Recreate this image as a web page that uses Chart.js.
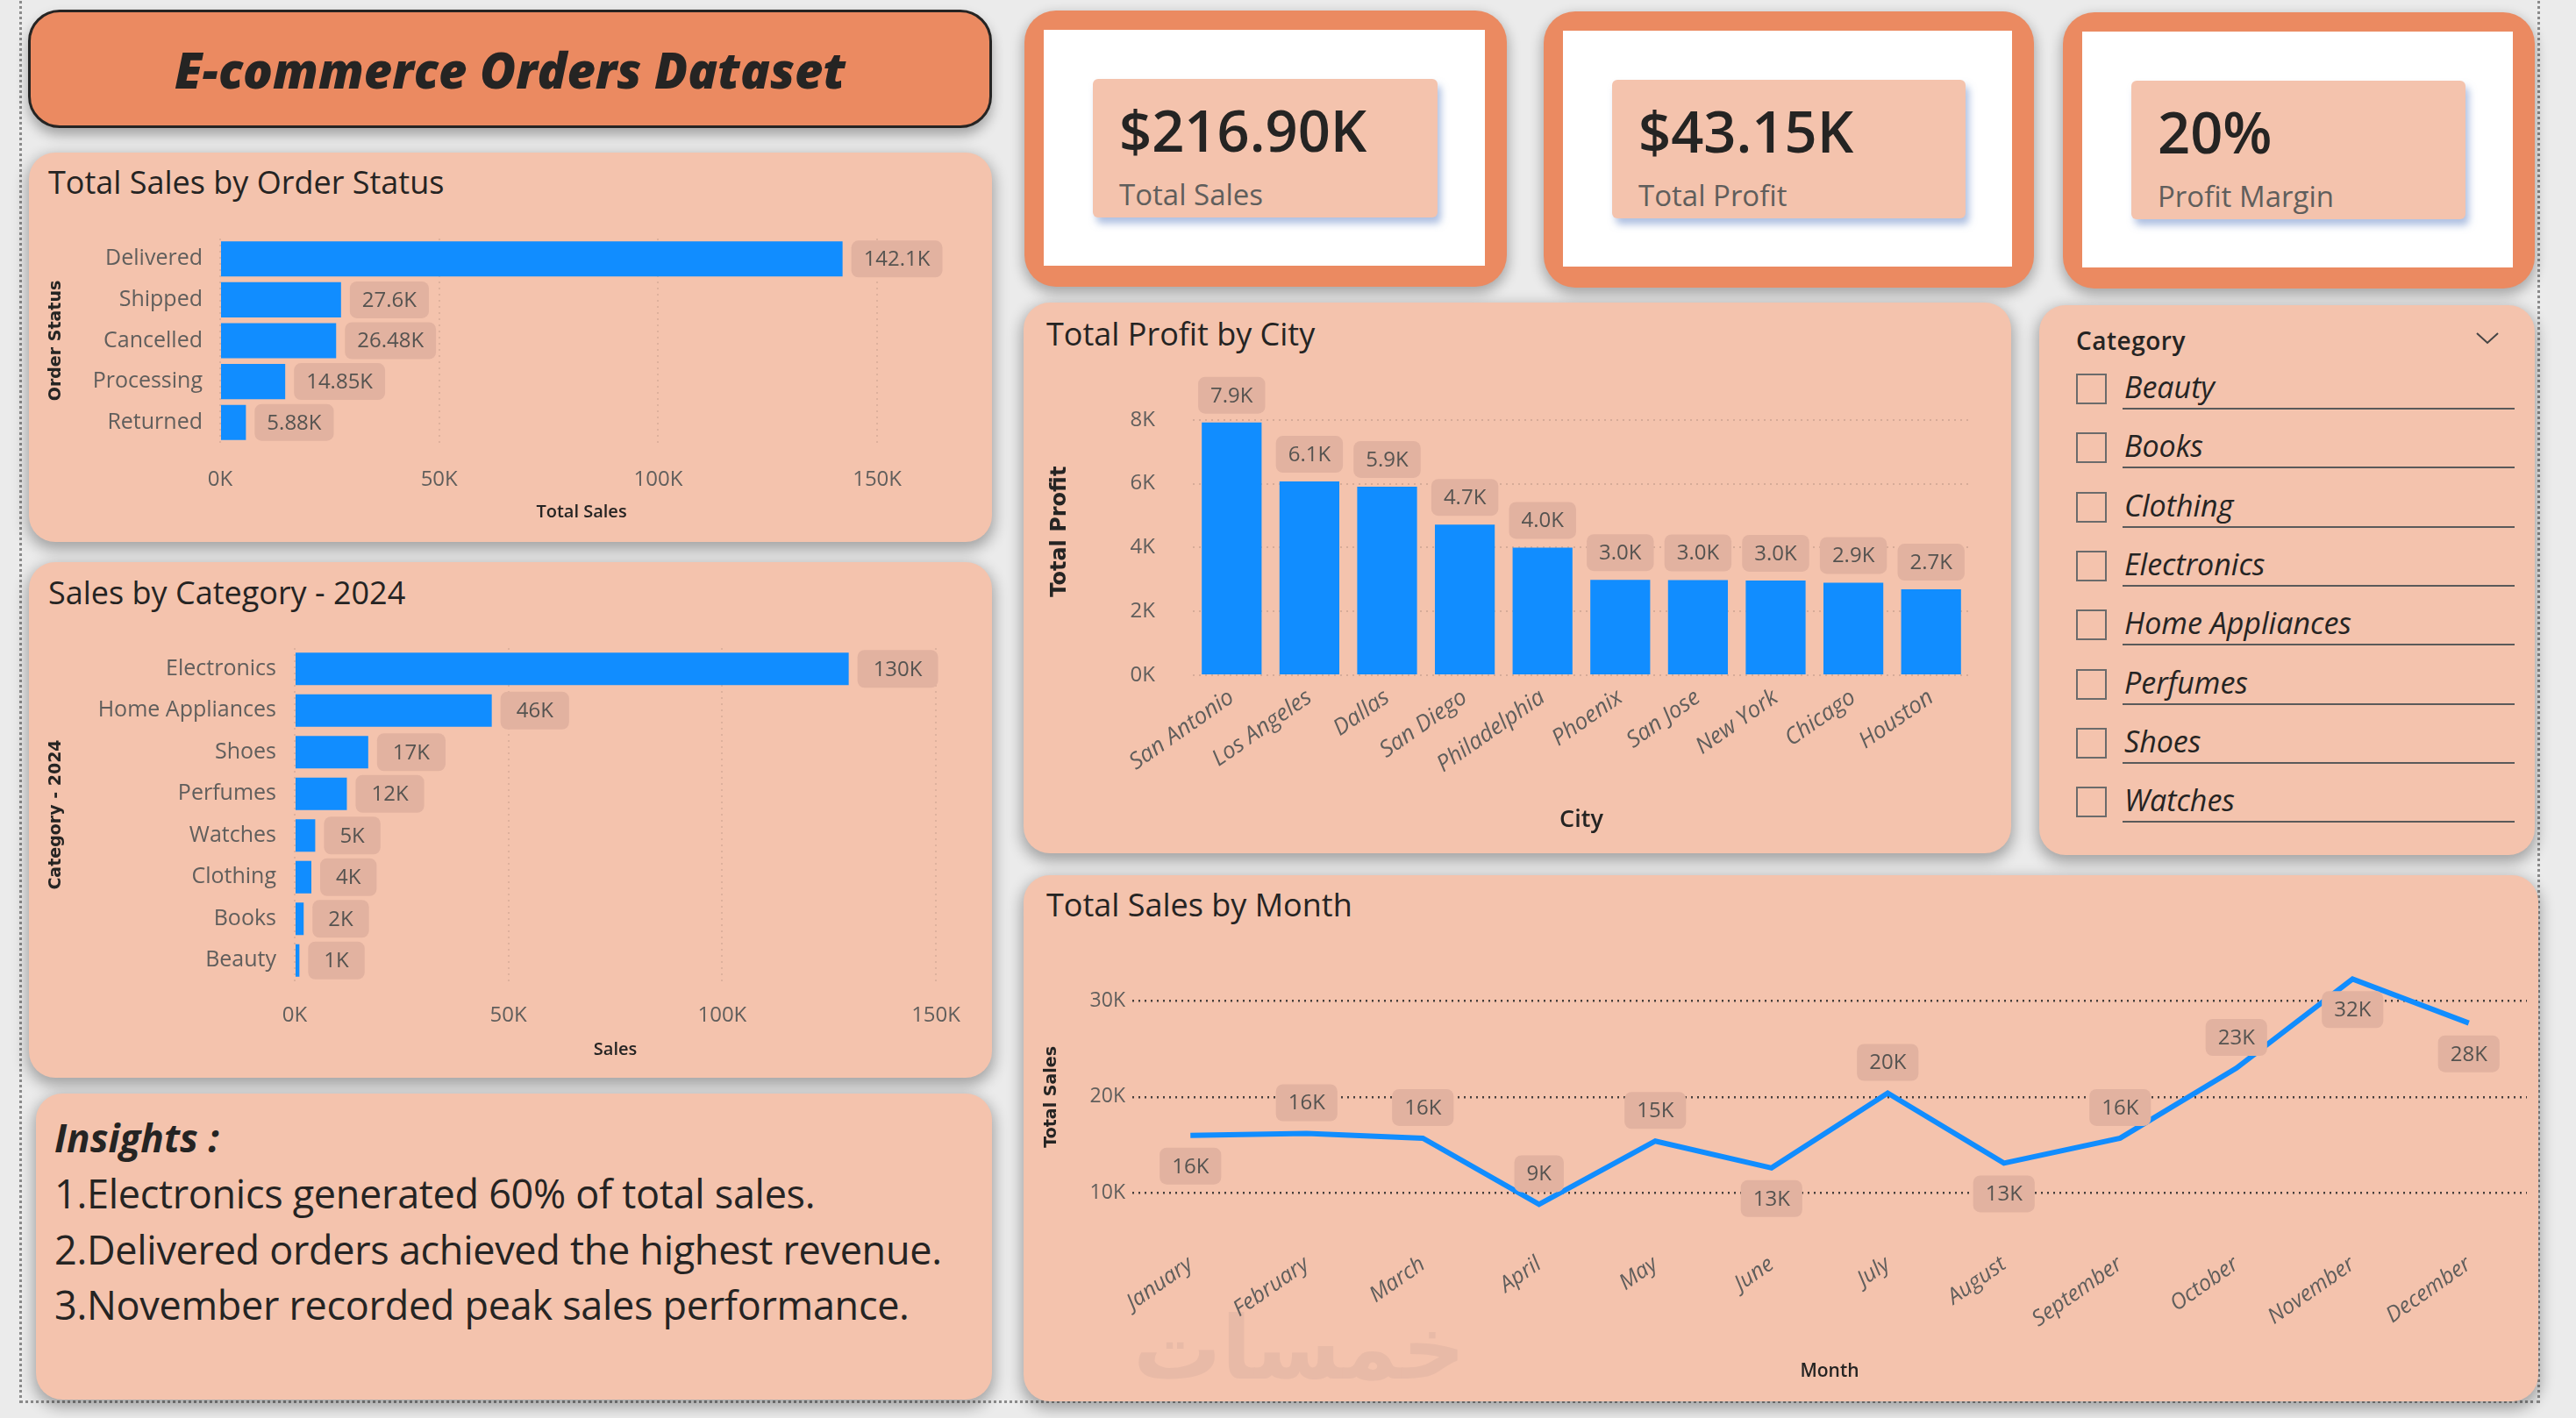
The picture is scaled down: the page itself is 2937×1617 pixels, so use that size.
<!DOCTYPE html>
<html>
<head>
<meta charset="utf-8">
<title>E-commerce Orders Dataset</title>
<script src="https://cdn.jsdelivr.net/npm/chart.js@4.4.1/dist/chart.umd.min.js"></script>
<style>
  html, body { margin: 0; padding: 0; }
  body {
    width: 2937px; height: 1617px; position: relative; overflow: hidden;
    background: #ebebeb; font-family: 'Open Sans', sans-serif; color: #252423;
  }
  .frame {
    position: absolute; left: 22px; top: -6px; width: 2874px; height: 1606px;
    border: 3px dotted #8a8a8a; border-top: none; box-sizing: border-box;
  }
  .panel {
    position: absolute; background: #F4C3AD; border-radius: 30px;
    box-shadow: 0 6px 16px 3px rgba(0,0,0,0.30);
  }
  .ptitle { position: absolute; left: 22px; font-size: 36px; line-height: 44px; font-weight: 500; color: #252423; }
  .chartbox { position: absolute; }
  .header {
    position: absolute; left: 32px; top: 11px; width: 1099px; height: 135px; box-sizing: border-box;
    background: #EB8A61; border: 3px solid #252423; border-radius: 36px;
    box-shadow: 0 8px 14px rgba(0,0,0,0.30);
    display: flex; align-items: center; justify-content: center;
    font-size: 56px; font-weight: 800; font-style: italic; color: #252423;
  }
  .kpi {
    position: absolute; background: #EB8A61; border-radius: 36px;
    box-shadow: 0 6px 14px 2px rgba(0,0,0,0.28);
  }
  .kpi .inner { position: absolute; left: 22px; top: 22px; right: 25px; bottom: 24px; background: #fff; }
  .kpi .val {
    position: absolute; left: 78px; top: 78px; height: 158px; background: #F4C3AD; border-radius: 6px;
    box-shadow: 4px 7px 9px rgba(110,140,200,0.55);
  }
  .kpi .num { position: absolute; left: 30px; top: 18px; font-size: 65px; font-weight: 600; line-height: 80px; color: #252423; }
  .kpi .name { position: absolute; left: 30px; top: 112px; font-size: 33px; line-height: 40px; color: #605E5C; }
  .slicer-title { position: absolute; left: 42px; top: 20px; font-size: 28px; font-weight: 600; letter-spacing: 0.5px; line-height: 40px; }
  .item { position: absolute; left: 42px; width: 500px; height: 40px; }
  .item .cb { position: absolute; left: 0; top: 0; width: 35px; height: 35px; box-sizing: border-box; border: 2px solid #6b6b6b; }
  .item .lbl { position: absolute; left: 55px; top: -7px; font-size: 34px; font-style: italic; line-height: 44px; color: #252423; }
  .item .ul { position: absolute; left: 53px; top: 39px; width: 447px; height: 2px; background: #5a5a5a; }
  .insights { position: absolute; left: 21px; top: 24px; }
  .insights .head { font-size: 44px; font-weight: 700; font-style: italic; line-height: 52px; margin-bottom: 6px; }
  .insights .line { font-size: 45px; line-height: 63.5px; color: #252423; letter-spacing: -0.3px; }
  .watermark {
    position: absolute; left: 1292px; top: 1478px; font-family: 'DejaVu Sans', sans-serif;
    font-size: 100px; font-weight: 700; color: #E8BAA7; line-height: 120px;
  }
</style>
</head>
<body>
<div class="frame"></div>

<div class="header">E-commerce Orders Dataset</div>

<div class="panel" style="left:33px;top:174px;width:1098px;height:444px;">
  <div class="ptitle" style="top:12px;">Total Sales by Order Status</div>
</div>
<div class="panel" style="left:33px;top:641px;width:1098px;height:588px;">
  <div class="ptitle" style="top:13px;">Sales by Category - 2024</div>
</div>
<div class="panel" style="left:41px;top:1247px;width:1090px;height:349px;">
  <div class="insights" id="insights"></div>
</div>

<div class="kpi" id="kpi0" style="left:1168px;top:12px;width:550px;height:315px;"></div>
<div class="kpi" id="kpi1" style="left:1760px;top:13px;width:559px;height:315px;"></div>
<div class="kpi" id="kpi2" style="left:2352px;top:14px;width:538px;height:315px;"></div>

<div class="panel" style="left:1167px;top:345px;width:1126px;height:628px;">
  <div class="ptitle" style="top:14px;left:26px;">Total Profit by City</div>
</div>
<div class="panel" id="slicer" style="left:2325px;top:348px;width:565px;height:627px;">
  <div class="slicer-title">Category</div>
  <svg style="position:absolute;left:497px;top:30px;" width="28" height="16" viewBox="0 0 28 16">
    <polyline points="2,2 14,13 26,2" fill="none" stroke="#444" stroke-width="2"/>
  </svg>
</div>
<div class="panel" style="left:1167px;top:998px;width:1727px;height:600px;">
  <div class="ptitle" style="top:12px;left:26px;">Total Sales by Month</div>
</div>
<div class="watermark">خمسات</div>

<div class="chartbox" style="left:40px;top:250px;width:1080px;height:358px;"><canvas id="statusChart"></canvas></div>
<div class="chartbox" style="left:40px;top:715px;width:1080px;height:505px;"><canvas id="categoryChart"></canvas></div>
<div class="chartbox" style="left:1180px;top:420px;width:1100px;height:545px;"><canvas id="cityChart"></canvas></div>
<div class="chartbox" style="left:1180px;top:1065px;width:1701px;height:525px;"><canvas id="monthChart"></canvas></div>

<script>
// --- DATA ---
const statusLabels = ['Delivered', 'Shipped', 'Cancelled', 'Processing', 'Returned'];
const statusSales = [142100, 27600, 26480, 14850, 5880];

const categoryLabels = ['Electronics', 'Home Appliances', 'Shoes', 'Perfumes', 'Watches', 'Clothing', 'Books', 'Beauty'];
const categorySales = [129600, 46100, 17200, 12200, 4800, 3900, 2100, 1100];

const cityLabels = ['San Antonio', 'Los Angeles', 'Dallas', 'San Diego', 'Philadelphia', 'Phoenix', 'San Jose', 'New York', 'Chicago', 'Houston'];
const cityProfit = [7920, 6070, 5910, 4720, 4000, 2990, 2980, 2970, 2900, 2690];

const monthLabels = ['January', 'February', 'March', 'April', 'May', 'June', 'July', 'August', 'September', 'October', 'November', 'December'];
const monthSales = [16000, 16200, 15700, 8800, 15400, 12600, 20400, 13100, 15700, 23000, 32300, 27700];

const salesTicks = [0, 50000, 100000, 150000];
const profitTicks = [0, 2000, 4000, 6000, 8000];
const monthTicks = [10000, 20000, 30000];

const kpiValues = ['$216.90K', '$43.15K', '20%'];
const kpiNames = ['Total Sales', 'Total Profit', 'Profit Margin'];

const slicerItems = ['Beauty', 'Books', 'Clothing', 'Electronics', 'Home Appliances', 'Perfumes', 'Shoes', 'Watches'];

const insightTitle = 'Insights :';
const insightLines = [
  '1.Electronics generated 60% of total sales.',
  '2.Delivered orders achieved the highest revenue.',
  '3.November recorded peak sales performance.'
];

// which side of the line each month label sits on
const monthLabelSide = ['below', 'above', 'above', 'above', 'above', 'below', 'above', 'below', 'above', 'above', 'below', 'below'];

// --- STATIC BITS ---
kpiValues.forEach((v, i) => {
  const w = [393, 403, 381][i];
  document.getElementById('kpi' + i).innerHTML =
    `<div class="inner"></div>
     <div class="val" style="width:${w}px">
       <div class="num">${v}</div>
       <div class="name">${kpiNames[i]}</div>
     </div>`;
});

const slicer = document.getElementById('slicer');
slicerItems.forEach((name, i) => {
  const d = document.createElement('div');
  d.className = 'item';
  d.style.top = (78 + i * 67.3) + 'px';
  d.innerHTML = `<div class="cb"></div><div class="lbl">${name}</div><div class="ul"></div>`;
  slicer.appendChild(d);
});

document.getElementById('insights').innerHTML =
  `<div class="head">${insightTitle}</div>` +
  insightLines.map(l => `<div class="line">${l}</div>`).join('');

// --- CHART HELPERS ---
Chart.defaults.font.family = "'Open Sans', sans-serif";
Chart.defaults.color = '#605E5C';
Chart.defaults.animation = false;

const BLUE = '#118DFF';
const LABEL_BG = '#E2B2A0';
const tickK = v => (v / 1000) + 'K';

// rounded value labels next to each bar / point
function valueBoxes(mode, fmt, opts) {
  return {
    id: 'valueBoxes',
    afterDatasetsDraw(chart) {
      const ctx = chart.ctx;
      const ds = chart.data.datasets[0];
      ctx.save();
      ctx.font = opts.font;
      ctx.textAlign = 'center';
      ctx.textBaseline = 'middle';
      chart.getDatasetMeta(0).data.forEach((el, i) => {
        const txt = fmt(ds.data[i]);
        const w = ctx.measureText(txt).width + opts.padX * 2;
        const h = opts.h;
        let cx, cy;
        if (mode === 'right') { cx = el.x + opts.gap + w / 2; cy = el.y; }
        else if (mode === 'top') { cx = el.x; cy = el.y - opts.gap - h / 2; }
        else { cx = el.x; cy = el.y + (monthLabelSide[i] === 'below' ? 1 : -1) * opts.gap; }
        ctx.fillStyle = LABEL_BG;
        ctx.beginPath();
        ctx.roundRect(cx - w / 2, cy - h / 2, w, h, 8);
        ctx.fill();
        ctx.fillStyle = '#555350';
        ctx.fillText(txt, cx, cy + 1);
      });
      ctx.restore();
    }
  };
}

const faintGrid = { color: 'rgba(0,0,0,0.09)', lineWidth: 2, drawTicks: false };
const dotted = { display: false, dash: [2, 5] };
const yTitleFont = size => ({ family: "'DejaVu Sans', sans-serif", weight: 'bold', size: size });

// --- 1. TOTAL SALES BY ORDER STATUS ---
new Chart(document.getElementById('statusChart'), {
  type: 'bar',
  data: { labels: statusLabels, datasets: [{ data: statusSales, backgroundColor: BLUE, barPercentage: 0.86, categoryPercentage: 1 }] },
  options: {
    indexAxis: 'y', responsive: true, maintainAspectRatio: false,
    layout: { padding: { top: 22, right: 45, bottom: 0, left: 0 } },
    plugins: { legend: { display: false }, tooltip: { enabled: false } },
    scales: {
      x: {
        min: 0, max: 165000,
        afterBuildTicks: s => { s.ticks = salesTicks.map(v => ({ value: v })); },
        afterFit: s => { s.height = 103; },
        grid: faintGrid, border: dotted,
        ticks: { callback: tickK, font: { size: 24 }, padding: 28 },
        title: { display: true, text: 'Total Sales', color: '#252423', font: { size: 20, weight: '600' }, padding: { top: 0, bottom: 12 } }
      },
      y: {
        afterFit: s => { s.width = 211; },
        grid: { display: false, drawTicks: true, tickLength: 14 }, border: { display: false },
        ticks: { font: { size: 25 }, padding: 6 },
        title: { display: true, text: 'Order Status', color: '#252423', font: yTitleFont(19), padding: { top: 13, bottom: 0 } }
      }
    }
  },
  plugins: [valueBoxes('right', v => parseFloat((v / 1000).toPrecision(4)) + 'K', { font: '24px "Open Sans"', padX: 14, h: 42, gap: 10 })]
});

// --- 2. SALES BY CATEGORY ---
new Chart(document.getElementById('categoryChart'), {
  type: 'bar',
  data: { labels: categoryLabels, datasets: [{ data: categorySales, backgroundColor: BLUE, barPercentage: 0.78, categoryPercentage: 1 }] },
  options: {
    indexAxis: 'y', responsive: true, maintainAspectRatio: false,
    layout: { padding: { top: 24, right: 44, bottom: 0, left: 0 } },
    plugins: { legend: { display: false }, tooltip: { enabled: false } },
    scales: {
      x: {
        min: 0, max: 150000,
        afterBuildTicks: s => { s.ticks = salesTicks.map(v => ({ value: v })); },
        afterFit: s => { s.height = 101; },
        grid: faintGrid, border: dotted,
        ticks: { callback: tickK, font: { size: 24 }, padding: 25 },
        title: { display: true, text: 'Sales', color: '#252423', font: { size: 20, weight: '600' }, padding: { top: 0, bottom: 11 } }
      },
      y: {
        afterFit: s => { s.width = 296; },
        grid: { display: false, drawTicks: true, tickLength: 15 }, border: { display: false },
        ticks: { font: { size: 25 }, padding: 6 },
        title: { display: true, text: 'Category - 2024', color: '#252423', font: yTitleFont(19), padding: { top: 13, bottom: 0 } }
      }
    }
  },
  plugins: [valueBoxes('right', v => Math.round(v / 1000) + 'K', { font: '24px "Open Sans"', padX: 18, h: 43, gap: 10 })]
});

// --- 3. TOTAL PROFIT BY CITY ---
new Chart(document.getElementById('cityChart'), {
  type: 'bar',
  data: { labels: cityLabels, datasets: [{ data: cityProfit, backgroundColor: BLUE, barPercentage: 0.77, categoryPercentage: 1 }] },
  options: {
    responsive: true, maintainAspectRatio: false,
    layout: { padding: { top: 0, right: 34, bottom: 0, left: 0 } },
    plugins: { legend: { display: false }, tooltip: { enabled: false } },
    scales: {
      x: {
        afterFit: s => { s.height = 195; },
        grid: { display: false }, border: { display: false },
        ticks: { font: { size: 26, style: 'italic' }, minRotation: 35, maxRotation: 35, autoSkip: false, padding: 2 },
        title: { display: true, text: 'City', color: '#252423', font: { size: 27, weight: '600' }, padding: { top: 0, bottom: 13 } }
      },
      y: {
        min: 0, max: 9000,
        afterBuildTicks: s => { s.ticks = profitTicks.map(v => ({ value: v })); },
        afterFit: s => { s.width = 180; },
        grid: { color: 'rgba(0,0,0,0.12)', lineWidth: 2, drawTicks: true, tickLength: 35, tickColor: 'rgba(0,0,0,0)' },
        border: dotted,
        ticks: { callback: tickK, font: { size: 24 }, padding: 8 },
        title: { display: true, text: 'Total Profit', color: '#252423', font: yTitleFont(24), padding: { top: 14, bottom: 0 } }
      }
    }
  },
  plugins: [valueBoxes('top', v => (v / 1000).toFixed(1) + 'K', { font: '24px "Open Sans"', padX: 14, h: 42, gap: 10 })]
});

// --- 4. TOTAL SALES BY MONTH ---
new Chart(document.getElementById('monthChart'), {
  type: 'line',
  data: { labels: monthLabels, datasets: [{ data: monthSales, borderColor: BLUE, borderWidth: 6, pointRadius: 0, tension: 0, fill: false }] },
  options: {
    responsive: true, maintainAspectRatio: false,
    layout: { padding: { top: 19, right: 0, bottom: 0, left: 0 } },
    plugins: { legend: { display: false }, tooltip: { enabled: false } },
    scales: {
      x: {
        offset: true,
        afterFit: s => { s.height = 175; },
        grid: { display: false }, border: { display: false },
        ticks: { font: { size: 25, style: 'italic' }, minRotation: 35, maxRotation: 35, autoSkip: false, padding: 4 },
        title: { display: true, text: 'Month', color: '#252423', font: { size: 21, weight: '600' }, padding: { top: 0, bottom: 13 } }
      },
      y: {
        min: 5000, max: 35000,
        afterBuildTicks: s => { s.ticks = monthTicks.map(v => ({ value: v })); },
        afterFit: s => { s.width = 111; },
        grid: { color: 'rgba(40,40,40,0.85)', lineWidth: 2.5, drawTicks: false }, border: dotted,
        ticks: { callback: tickK, font: { size: 23 }, padding: 8 },
        title: { display: true, text: 'Total Sales', color: '#252423', font: yTitleFont(19), padding: { top: 8, bottom: 0 } }
      }
    }
  },
  plugins: [valueBoxes('line', v => Math.round(v / 1000) + 'K', { font: '24px "Open Sans"', padX: 14, h: 42, gap: 35 })]
});
</script>
</body>
</html>
